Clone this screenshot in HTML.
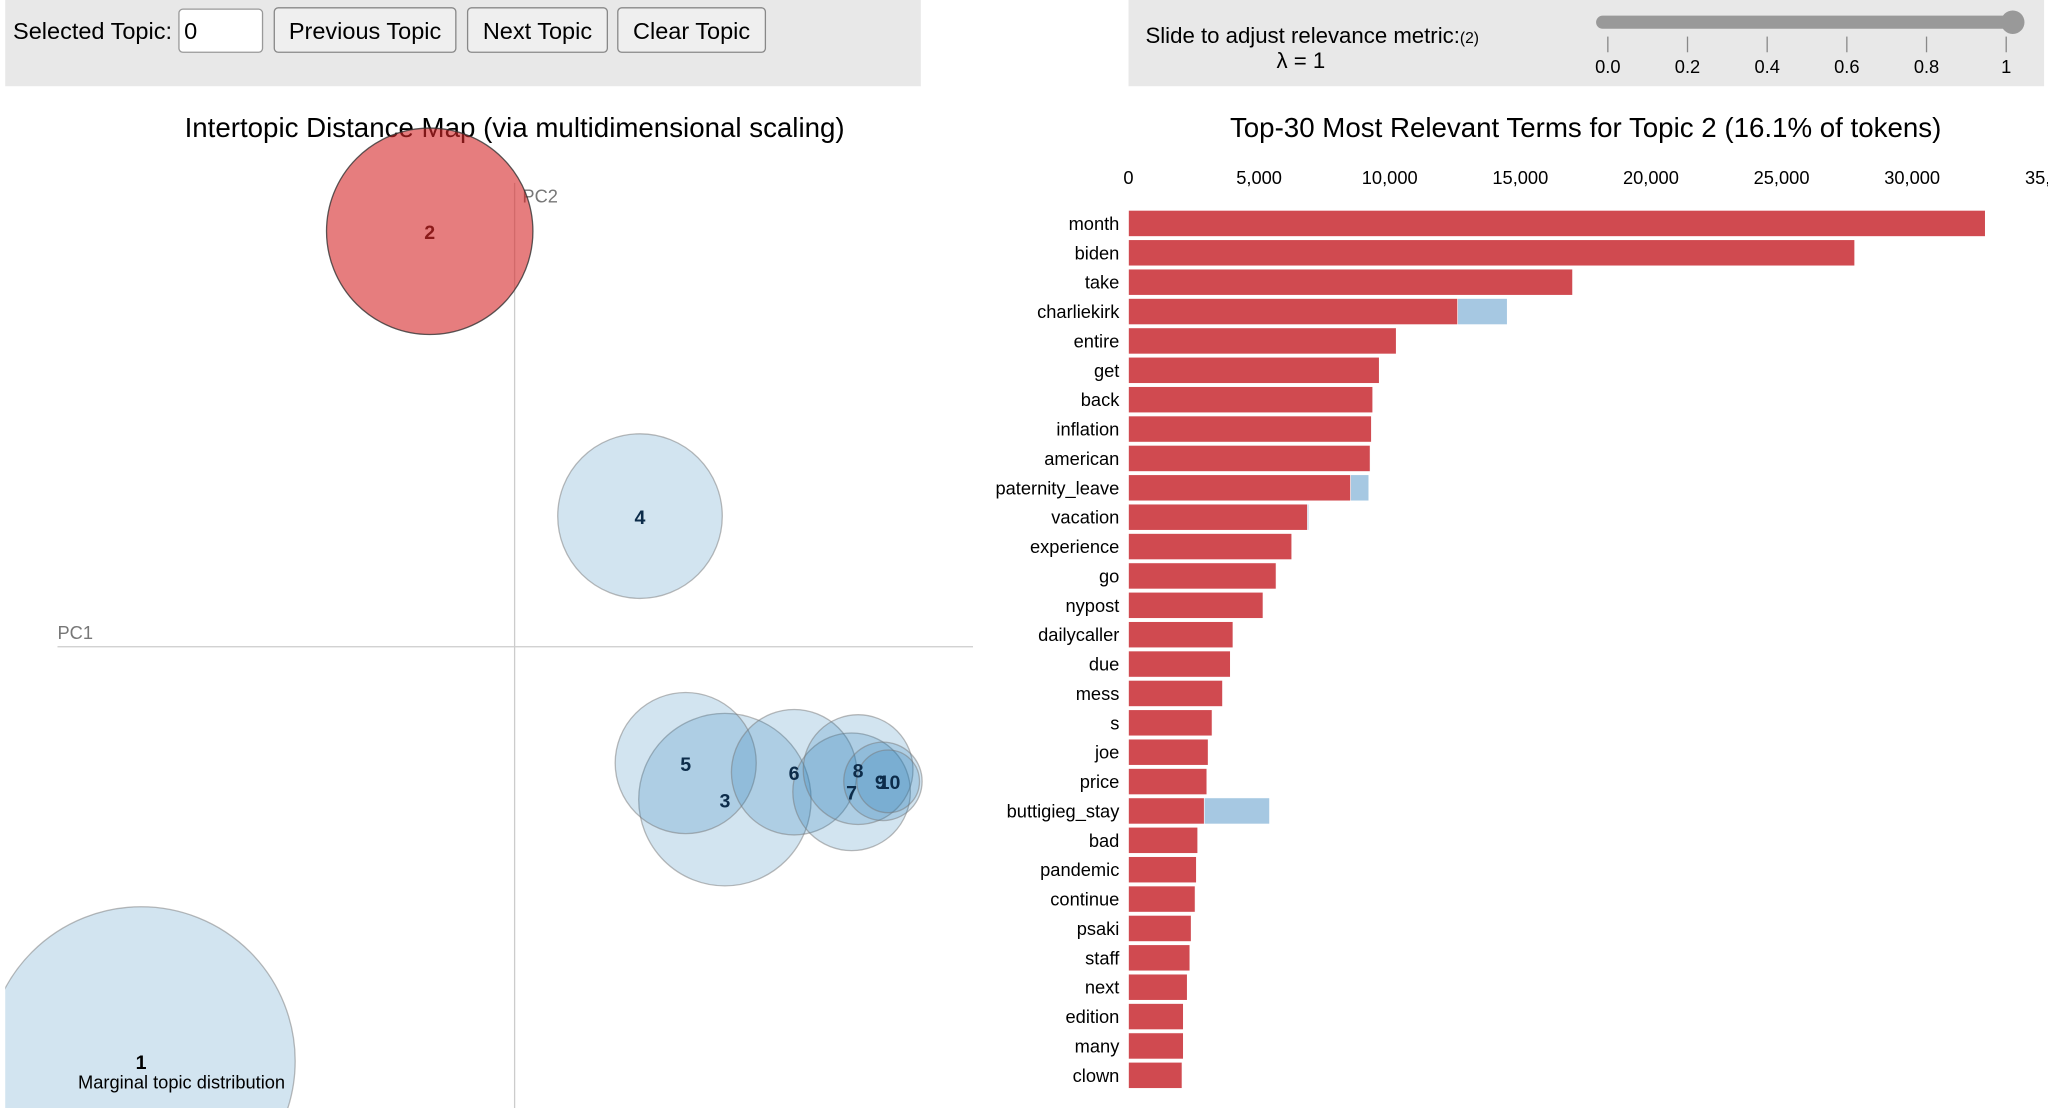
<!DOCTYPE html>
<html><head><meta charset="utf-8"><style>
html,body{margin:0;padding:0;background:#fff;overflow:hidden;width:2048px;height:1108px}
svg{display:block;font-family:"Liberation Sans",Arial,sans-serif}
</style></head><body>
<svg id="root" width="2048" height="1108" viewBox="0 0 1568 848" preserveAspectRatio="none" xmlns="http://www.w3.org/2000/svg">
<defs><clipPath id="lclip"><rect x="4" y="66" width="741" height="782"/></clipPath></defs>
<rect x="4" y="0" width="701" height="66" fill="#e8e8e8"/>
<rect x="864" y="0" width="701" height="66" fill="#e8e8e8"/>
<text x="10" y="30" font-size="18">Selected Topic:</text>
<rect x="137" y="7" width="64" height="33" rx="3" fill="#fff" stroke="#999"/>
<text x="141" y="30" font-size="18">0</text>
<g><rect x="210" y="6" width="139" height="34" rx="3" fill="#efefef" stroke="#888"/><text x="279.5" y="30" font-size="18" text-anchor="middle">Previous Topic</text></g>
<g><rect x="358" y="6" width="107" height="34" rx="3" fill="#efefef" stroke="#888"/><text x="411.5" y="30" font-size="18" text-anchor="middle">Next Topic</text></g>
<g><rect x="473" y="6" width="113" height="34" rx="3" fill="#efefef" stroke="#888"/><text x="529.5" y="30" font-size="18" text-anchor="middle">Clear Topic</text></g>
<text x="877" y="33" font-size="17">Slide to adjust relevance metric:<tspan font-size="12">(2)</tspan></text>
<text x="996" y="52" font-size="17" text-anchor="middle">λ = 1</text>
<rect x="1222" y="12" width="326" height="10" rx="5" fill="#999"/>
<circle cx="1541" cy="17" r="9" fill="#999"/>
<g id="sliderTicks"></g>
<text x="394" y="105" font-size="21.2" text-anchor="middle">Intertopic Distance Map (via multidimensional scaling)</text>
<text x="1214" y="105" font-size="21.2" text-anchor="middle">Top-30 Most Relevant Terms for Topic 2 (16.1% of tokens)</text>
<g clip-path="url(#lclip)">
<line x1="44" y1="495" x2="745" y2="495" stroke="#ccc"/>
<line x1="394" y1="140" x2="394" y2="848" stroke="#ccc"/>
<text x="44" y="489" font-size="14" fill="#777">PC1</text>
<text x="400" y="155" font-size="14" fill="#777">PC2</text>
<g id="circles"></g>
<text x="139" y="833" font-size="14" text-anchor="middle">Marginal topic distribution</text>
</g>
<g id="bars"></g>
</svg>
<script>
const NS="http://www.w3.org/2000/svg";
// slider
const sliderTicks=["0.0","0.2","0.4","0.6","0.8","1"];
// topics
const topicIds=[1,2,3,4,5,6,7,8,9,10];
const topicX=[108,329,555,490,525,608,652,657,676,680];
const topicY=[812,177,612,395,584,591,606,589,598,598];
const topicR=[118,79,66,63,54,48,45,42,30,24];
// terms
const terms=["month","biden","take","charliekirk","entire","get","back","inflation","american","paternity_leave","vacation","experience","go","nypost","dailycaller","due","mess","s","joe","price","buttigieg_stay","bad","pandemic","continue","psaki","staff","next","edition","many","clown"];
const topicFreq=[32800,27800,17000,12600,10250,9600,9350,9300,9250,8500,6850,6250,5650,5150,4000,3900,3600,3200,3050,3000,2900,2650,2600,2550,2400,2350,2250,2100,2100,2050];
const totalFreq=[32800,27800,17000,14500,10250,9600,9350,9300,9250,9200,6900,6250,5650,5150,4000,3900,3600,3200,3050,3000,5400,2650,2600,2550,2400,2350,2250,2100,2100,2050];
const xTicks=[0,5000,10000,15000,20000,25000,30000,35000];
const xTickLabels=["0","5,000","10,000","15,000","20,000","25,000","30,000","35,0"];

function mk(t,a,p){const e=document.createElementNS(NS,t);for(const k in a)e.setAttribute(k,a[k]);p.appendChild(e);return e;}
const st=document.getElementById('sliderTicks');
const sx=i=>1231+i*(1536-1231)/5;
sliderTicks.forEach((l,i)=>{
  const ln=mk('line',{x1:sx(i),y1:28,x2:sx(i),y2:40,stroke:'#888'},st);
  
  
  const t=mk('text',{x:sx(i),y:56,'font-size':14,'text-anchor':'middle'},st);t.textContent=l;
  
  
});
const cg=document.getElementById('circles');
topicIds.forEach((id,i)=>{
  const red=id===2;
  const c=mk('circle',{cx:topicX[i],cy:topicY[i],r:topicR[i],fill:red?'#d62728':'#1f77b4','fill-opacity':red?0.6:0.2,stroke:red?'#333':'#777','stroke-opacity':red?0.8:0.5,'stroke-width':1},cg);
  
  
});
const labOff={9:[-2,0],10:[1,0]};
topicIds.forEach((id,i)=>{
  const o=labOff[id]||[0,0];
  const t=mk('text',{x:topicX[i]+o[0],y:topicY[i]+6,'font-size':15,'font-weight':'bold','text-anchor':'middle',fill:id===2?'#8b1a1a':(id===1?'#000':'#0d2c4a')},cg);
  t.textContent=id;
  
  
});
// bars
const bg=document.getElementById('bars');
const X0=864,PX=100/5000;
const xs=v=>X0+v*PX;
const ys=i=>171+i*(823-171)/29;
xTicks.forEach((v,i)=>{
  const t=mk('text',{x:xs(v),y:141,'font-size':14,'text-anchor':'middle'},bg);t.textContent=xTickLabels[i];
  
  
});
terms.forEach((term,i)=>{
  const y=ys(i);
  const b=mk('rect',{x:X0,y:y-10,width:xs(totalFreq[i])-X0,height:20,fill:'#a6c8e2',stroke:'#fff','stroke-width':0.5},bg);
  
  
  const r=mk('rect',{x:X0,y:y-10,width:xs(topicFreq[i])-X0,height:20,fill:'#d04a50',stroke:'#fff','stroke-width':0.5},bg);
  
  
  const t=mk('text',{x:857,y:y+5,'font-size':14,'text-anchor':'end'},bg);t.textContent=term;
  
  
});
</script>
</body></html>
